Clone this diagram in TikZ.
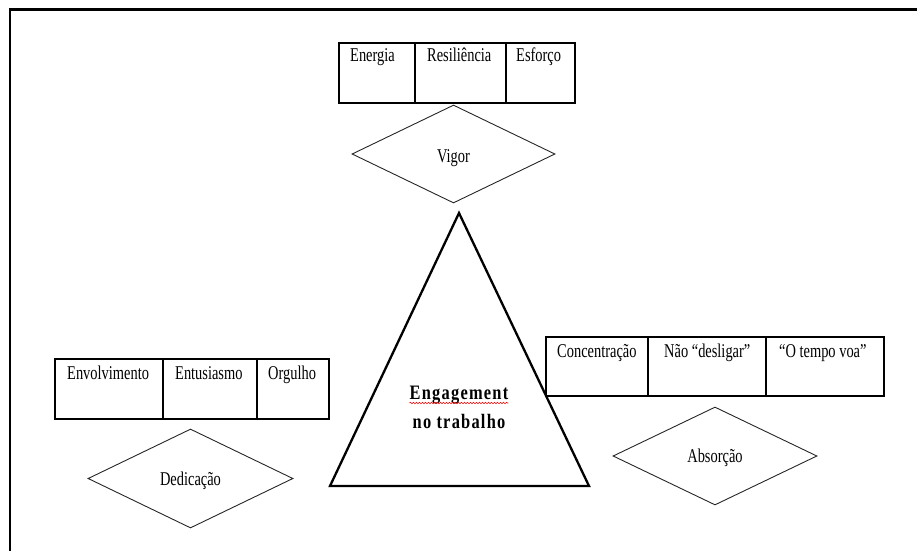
\documentclass[tikz,border=0pt]{standalone}
\usepackage{fontspec}
\setmainfont{Liberation Serif}[FakeStretch=0.74]
\newfontfamily\corefont{Liberation Serif}[FakeStretch=0.8, LetterSpace=6.0]
\usetikzlibrary{shapes.geometric,decorations.pathmorphing}

\begin{document}
\begin{tikzpicture}[x=1pt,y=-1pt,
  cell/.style={draw, line width=1.1pt, minimum height=60pt, inner sep=0pt, outer sep=0pt, anchor=north west},
  celltext/.style={anchor=base west, inner sep=0pt, font=\fontsize{19.5}{22}\selectfont},
  facet/.style={shape=diamond, draw=black!85, line width=0.9pt, inner sep=0pt},
  facettext/.style={anchor=base, inner sep=0pt, font=\fontsize{19.5}{22}\selectfont},
  coretext/.style={anchor=base, inner sep=0pt, font=\corefont\bfseries\fontsize{20.5}{24}\selectfont},
  frameline/.style={line width=2.3pt, line join=miter}]
\useasboundingbox (0,0) rectangle (917,551);

% page frame (top and left edges)
\draw[frameline] (917,9.5) -- (9.7,9.5) -- (9.7,551);

% ---- Vigor ----
\node[cell, minimum width=76pt] (v1) at (339,43) {};
\node[cell, minimum width=91pt] (v2) at (v1.north east) {};
\node[cell, minimum width=69pt] (v3) at (v2.north east) {};
\node[celltext] (v1t) at ([shift={(11,19)}]v1.north west) {Energia};
\node[celltext] (v2t) at ([shift={(12,19)}]v2.north west) {Resiliência};
\node[celltext] (v3t) at ([shift={(10,19)}]v3.north west) {Esforço};
\node[facet, minimum width=203pt, minimum height=98pt] (vigor) at (453.5,154) {};
\node[facettext] (vigort) at (453.5,162) {Vigor};

% ---- Dedicação ----
\node[cell, minimum width=108pt] (d1) at (55,359) {};
\node[cell, minimum width=94pt] (d2) at (d1.north east) {};
\node[cell, minimum width=72pt] (d3) at (d2.north east) {};
\node[celltext] (d1t) at ([shift={(12,20)}]d1.north west) {Envolvimento};
\node[celltext] (d2t) at ([shift={(12,20)}]d2.north west) {Entusiasmo};
\node[celltext] (d3t) at ([shift={(11,20)}]d3.north west) {Orgulho};
\node[facet, minimum width=205pt, minimum height=99pt] (dedic) at (190.5,478.5) {};
\node[facettext] (dedict) at (190.5,485) {Dedicação};

% ---- Absorção ----
\node[cell, minimum width=102pt, minimum height=59pt] (a1) at (546,337) {};
\node[cell, minimum width=118pt, minimum height=59pt] (a2) at (a1.north east) {};
\node[cell, minimum width=118pt, minimum height=59pt] (a3) at (a2.north east) {};
\node[celltext] (a1t) at ([shift={(11,20)}]a1.north west) {Concentração};
\node[celltext] (a2t) at ([shift={(16,20)}]a2.north west) {Não “desligar”};
\node[celltext] (a3t) at ([shift={(13,20)}]a3.north west) {“O tempo voa”};
\node[facet, minimum width=204pt, minimum height=98pt] (absor) at (715,456) {};
\node[facettext] (absort) at (715,462) {Absorção};

% ---- central triangle ----
\coordinate (apex) at (459,213);
\coordinate (baseL) at (330,486);
\coordinate (baseR) at (589,486);
\draw[frameline] (apex) -- (baseL) -- (baseR) -- cycle;
\node[coretext] (eng) at (459,399) {Engagement};
\node[coretext] (trab) at (459,428) {no trabalho};
\draw[red, line width=0.6pt, decorate,
      decoration={snake, amplitude=0.8pt, segment length=3pt}]
  ([yshift=-4pt]eng.base west) -- ([yshift=-4pt]eng.base east);
\end{tikzpicture}
\end{document}
